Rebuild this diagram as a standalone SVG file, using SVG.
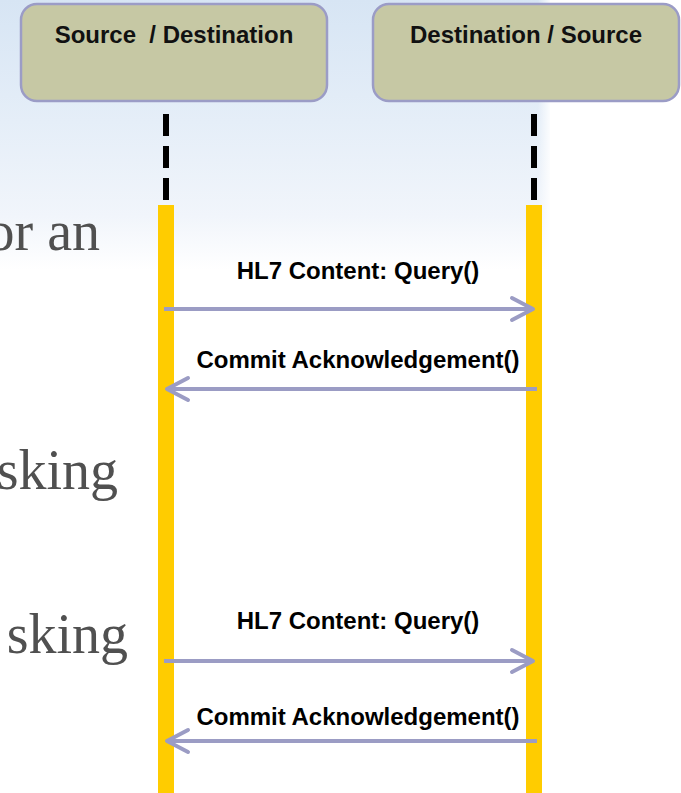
<svg xmlns="http://www.w3.org/2000/svg" width="681" height="793" viewBox="0 0 681 793">
  <defs>
    <linearGradient id="sky" x1="0" y1="0" x2="0" y2="1">
      <stop offset="0" stop-color="#d7e5f4"/>
      <stop offset="0.45" stop-color="#e5eef8"/>
      <stop offset="0.8" stop-color="#f1f5fb"/>
      <stop offset="1" stop-color="#ffffff"/>
    </linearGradient>
    <linearGradient id="fadeR" x1="0" y1="0" x2="1" y2="0">
      <stop offset="0" stop-color="#ffffff" stop-opacity="0"/>
      <stop offset="1" stop-color="#ffffff" stop-opacity="1"/>
    </linearGradient>
    <marker id="open" viewBox="-24 -14 28 28" refX="0" refY="0" markerWidth="28" markerHeight="28" markerUnits="userSpaceOnUse" orient="auto">
      <path d="M-21,-11 L0,0 L-21,11" fill="none" stroke="#9b9cc4" stroke-width="4" stroke-linecap="round" stroke-linejoin="round"/>
    </marker>
    <style>
      .box { fill: #c6c8a4; stroke: #9b9cc6; stroke-width: 2.5; }
      .title { font-family: "Liberation Sans", Arial, sans-serif; font-weight: bold; font-size: 24px; fill: #111111; text-anchor: middle; }
      .label { font-family: "Liberation Sans", Arial, sans-serif; font-weight: bold; font-size: 24px; fill: #000000; text-anchor: middle; }
      .slide { font-family: "Liberation Serif", "Times New Roman", serif; font-size: 56px; fill: #505050; text-anchor: end; }
      .life { stroke: #000000; stroke-width: 6; stroke-dasharray: 22 10; fill: none; }
      .bar { fill: #ffcc00; }
      .msg { stroke: #9b9cc4; stroke-width: 4; fill: none; marker-end: url(#open); }
    </style>
  </defs>

  <rect x="0" y="0" width="681" height="793" fill="#ffffff"/>
  <g id="background">
    <rect x="0" y="0" width="550" height="270" fill="url(#sky)"/>
    <rect x="538" y="0" width="14" height="270" fill="url(#fadeR)"/>
    <text class="slide" x="100" y="250">or an</text>
    <text class="slide" x="118" y="489">sking</text>
    <text class="slide" x="128" y="653">sking</text>
  </g>

  <g id="node-source-destination">
    <rect class="box" x="21" y="4" width="306" height="97" rx="16" ry="16"/>
    <text class="title" x="174" y="43" xml:space="preserve">Source  / Destination</text>
    <line class="life" x1="166" y1="114" x2="166" y2="200"/>
    <rect class="bar" x="158" y="205" width="16" height="588"/>
  </g>

  <g id="node-destination-source">
    <rect class="box" x="373" y="4" width="306" height="97" rx="16" ry="16"/>
    <text class="title" x="526" y="43">Destination / Source</text>
    <line class="life" x1="534" y1="114" x2="534" y2="200"/>
    <rect class="bar" x="526" y="205" width="16" height="588"/>
  </g>

  <g id="connectors">
    <line class="msg" x1="164" y1="309" x2="533" y2="309"/>
    <text class="label" x="358" y="279">HL7 Content: Query()</text>
    <line class="msg" x1="537" y1="389" x2="167" y2="389"/>
    <text class="label" x="358" y="368">Commit Acknowledgement()</text>
    <line class="msg" x1="164" y1="661" x2="533" y2="661"/>
    <text class="label" x="358" y="629">HL7 Content: Query()</text>
    <line class="msg" x1="537" y1="741" x2="167" y2="741"/>
    <text class="label" x="358" y="725">Commit Acknowledgement()</text>
  </g>
</svg>
